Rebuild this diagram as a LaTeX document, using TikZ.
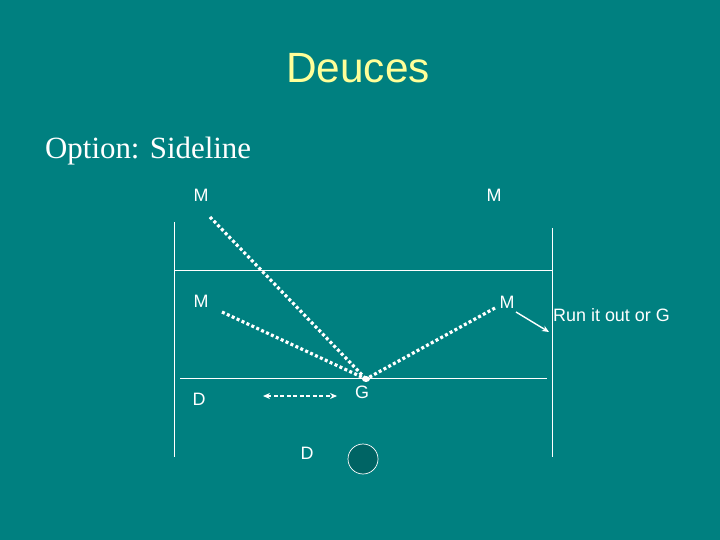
\documentclass[tikz,border=0pt]{standalone}
\usepackage{fontspec}
\setmainfont{Liberation Sans}
\newfontfamily\optfont{Liberation Serif}
\usepackage{xcolor}
\usetikzlibrary{arrows.meta}

\definecolor{slideteal}{HTML}{008080}
\definecolor{titleyellow}{HTML}{FFFF99}
\definecolor{balldark}{HTML}{006464}

\tikzset{
	player/.style = {text = white, font = \fontsize{18}{18}\selectfont, inner sep = 0pt},
	pass/.style = {white, line width = 3.2bp, dash pattern = on 3bp off 2.4bp},
	courtline/.style = {white, line width = 0.9bp},
	movetip/.tip = {Stealth[length = 7bp, width = 6bp]}
}

\begin{document}
\begin{tikzpicture}[x = 1bp, y = -1bp]
							\fill [slideteal] (0,0) rectangle (720,540);
							\useasboundingbox (0,0) rectangle (720,540);
				
							\node [text = titleyellow, font = \fontsize{42.5}{42.5}\selectfont] (title) at (358,68) {Deuces};
							\node [text = white, font = \optfont\fontsize{31}{31}\selectfont, anchor = west, inner sep = 0pt] (option) at (45,151) {Option: Sideline};
				
							% court
							\draw [courtline] (174,222) -- (174,457);
							\draw [courtline] (552,228) -- (552,457);
							\draw [courtline] (174,270) -- (552,270);
							\draw [courtline] (180,378) -- (547,378);
				
							% players
							\node [player] (m1) at (201,195) {M};
							\node [player] (m2) at (494,195) {M};
							\node [player] (m3) at (201,301) {M};
							\node [player] (m4) at (507,302) {M};
							\node [player] (d1) at (199,399) {D};
							\node [player] (g) at (362,392) {G};
							\node [player] (d2) at (307,453) {D};
							\node [player, anchor = west] (runout) at (553,315) {Run it out or G};
				
							\draw [white, fill = balldark, line width = 0.7bp] (363,459) circle (15);
				
							% passes
							\coordinate (meet) at (366,379);
							\coordinate (m1start) at (210,217);
							\coordinate (m3start) at (222,312);
							\coordinate (m4start) at (495,308);
							\draw [pass] (m1start) -- (meet);
							\draw [pass] (m3start) -- (meet);
							\draw [pass] (m4start) -- (meet);
							\fill [white] (meet) ellipse (4 and 3);
				
							\coordinate (outstart) at (516,312);
							\coordinate (outend) at (549,332);
							\draw [white, line width = 1.4bp, -movetip] (outstart) -- (outend);
				
							\coordinate (slideleft) at (263,396);
							\coordinate (slideright) at (337,396);
							\draw [white, line width = 1.4bp, dash pattern = on 4bp off 2.5bp, movetip-movetip] (slideleft) -- (slideright);
						\end{tikzpicture}
\end{document}
